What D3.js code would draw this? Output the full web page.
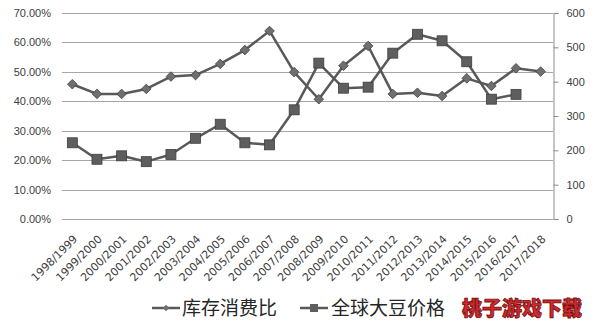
<!DOCTYPE html>
<html>
<head>
<meta charset="utf-8">
<script src="https://cdn.jsdelivr.net/npm/d3@7"></script>
<style>
    body { margin: 0; background: #ffffff; }
    svg { display: block; }
</style>
</head>
<body>
<div class="Chart"></div>
<script>

const seasons = [
    "1998/1999", "1999/2000", "2000/2001", "2001/2002", "2002/2003",
    "2003/2004", "2004/2005", "2005/2006", "2006/2007", "2007/2008",
    "2008/2009", "2009/2010", "2010/2011", "2011/2012", "2012/2013",
    "2013/2014", "2014/2015", "2015/2016", "2016/2017", "2017/2018"
];

// 库存消费比 (%)
const stock_ratio = [
    45.8, 42.5, 42.5, 44.2, 48.4, 48.9, 52.7, 57.4, 63.9, 49.9,
    40.7, 52.1, 58.8, 42.5, 42.9, 41.8, 47.8, 45.2, 51.2, 50.1
];

// 全球大豆价格, last season has no value
const soy_price = [
    222, 174, 184, 167, 188, 235, 276, 222, 216, 318,
    454, 381, 384, 483, 538, 519, 458, 349, 363, null
];

const left_ticks = [0, 10, 20, 30, 40, 50, 60, 70];
const right_ticks = [0, 100, 200, 300, 400, 500, 600];

const legend_items = ["库存消费比", "全球大豆价格"];
const watermark = "桃子游戏下载";

const width = 594;
const height = 327;
const plot = {left: 60, right: 553, top: 13, bottom: 219};

const svg = d3.select(".Chart")
    .append("svg")
    .attr("width", width)
    .attr("height", height)
    .style("font-family", "'DejaVu Sans', Verdana, sans-serif");

const x = d3.scalePoint()
    .domain(seasons)
    .range([plot.left, plot.right])
    .padding(0.5);

const y_left = d3.scaleLinear()
    .domain([0, 70])
    .range([plot.bottom, plot.top]);

const y_right = d3.scaleLinear()
    .domain([0, 600])
    .range([plot.bottom, plot.top]);

// horizontal grid lines follow the left axis
svg.append("g")
    .selectAll("line")
    .data(left_ticks)
    .join("line")
    .attr("x1", plot.left + 2)
    .attr("x2", plot.right)
    .attr("y1", d => Math.round(y_left(d)) + 0.5)
    .attr("y2", d => Math.round(y_left(d)) + 0.5)
    .attr("stroke", "#a6a6a6")
    .attr("stroke-width", 1);

// left axis: labels only
const left_axis = svg.append("g")
    .attr("transform", `translate(${plot.left - 9},0)`)
    .call(d3.axisLeft(y_left)
        .tickValues(left_ticks)
        .tickSize(0)
        .tickFormat(d => d.toFixed(2) + "%"));
left_axis.select(".domain").remove();
left_axis.selectAll("text")
    .attr("x", 0)
    .style("font-size", "11px")
    .attr("fill", "#404040");

// right axis with line and outer ticks
const right_axis = svg.append("g")
    .attr("transform", `translate(${plot.right + 0.5},0)`)
    .call(d3.axisRight(y_right)
        .tickValues(right_ticks)
        .tickSize(5)
        .tickPadding(8)
        .tickFormat(d3.format("d")));
right_axis.select(".domain").attr("stroke", "#8c8c8c");
right_axis.selectAll(".tick line").attr("stroke", "#8c8c8c");
right_axis.selectAll("text")
    .style("font-size", "11px")
    .attr("fill", "#404040");

// rotated category labels
svg.append("g")
    .selectAll("text")
    .data(seasons)
    .join("text")
    .attr("transform", d => `translate(${x(d) + 3},${plot.bottom + 18}) rotate(-45)`)
    .attr("text-anchor", "end")
    .attr("dy", "0.35em")
    .style("font-size", "11px")
    .attr("fill", "#404040")
    .text(d => d);

const line_color = "#595959";

// soybean price line with square markers
const price_points = seasons
    .map((s, i) => ({season: s, value: soy_price[i]}))
    .filter(d => d.value !== null);

svg.append("path")
    .datum(price_points)
    .attr("fill", "none")
    .attr("stroke", line_color)
    .attr("stroke-width", 2.5)
    .attr("stroke-linejoin", "round")
    .attr("d", d3.line().x(d => x(d.season)).y(d => y_right(d.value)));

svg.append("g")
    .selectAll("rect")
    .data(price_points)
    .join("rect")
    .attr("x", d => x(d.season) - 5)
    .attr("y", d => y_right(d.value) - 5)
    .attr("width", 10)
    .attr("height", 10)
    .attr("fill", "#5e5e5e")
    .attr("stroke", "#3f3f3f")
    .attr("stroke-width", 0.8);

// stock to use ratio line with diamond markers
const ratio_points = seasons.map((s, i) => ({season: s, value: stock_ratio[i]}));

svg.append("path")
    .datum(ratio_points)
    .attr("fill", "none")
    .attr("stroke", line_color)
    .attr("stroke-width", 2.5)
    .attr("stroke-linejoin", "round")
    .attr("d", d3.line().x(d => x(d.season)).y(d => y_left(d.value)));

svg.append("g")
    .selectAll("path")
    .data(ratio_points)
    .join("path")
    .attr("transform", d => `translate(${x(d.season)},${y_left(d.value)}) rotate(45)`)
    .attr("d", d3.symbol().type(d3.symbolSquare).size(46))
    .attr("fill", "#6f6f6f")
    .attr("stroke", "#454545")
    .attr("stroke-width", 0.8);

// legend
const legend_y = 308;
const legend = svg.append("g")
    .style("font-family", "'Noto Sans CJK SC', sans-serif")
    .style("font-size", "19px");

const legend_pos = [{line: 152, text: 182}, {line: 300, text: 331}];

legend_items.forEach((name, i) => {
    const p = legend_pos[i];
    legend.append("line")
        .attr("x1", p.line)
        .attr("x2", p.line + 28)
        .attr("y1", legend_y)
        .attr("y2", legend_y)
        .attr("stroke", line_color)
        .attr("stroke-width", 2.5);
    if (i === 0) {
        legend.append("path")
            .attr("transform", `translate(${p.line + 14},${legend_y}) rotate(45)`)
            .attr("d", d3.symbol().type(d3.symbolSquare).size(22))
            .attr("fill", "#6f6f6f");
    } else {
        legend.append("rect")
            .attr("x", p.line + 10)
            .attr("y", legend_y - 4)
            .attr("width", 8)
            .attr("height", 8)
            .attr("fill", "#5e5e5e");
    }
    legend.append("text")
        .attr("x", p.text)
        .attr("y", legend_y)
        .attr("dy", "0.36em")
        .attr("fill", "#262626")
        .text(name);
});

// red watermark text in the corner
svg.append("text")
    .attr("x", 462)
    .attr("y", 316)
    .style("font-family", "'Noto Sans CJK SC', sans-serif")
    .style("font-size", "20px")
    .style("font-weight", "900")
    .attr("fill", "#d8262a")
    .attr("stroke", "#6e1212")
    .attr("stroke-width", 0.8)
    .text(watermark);

</script>
</body>
</html>
